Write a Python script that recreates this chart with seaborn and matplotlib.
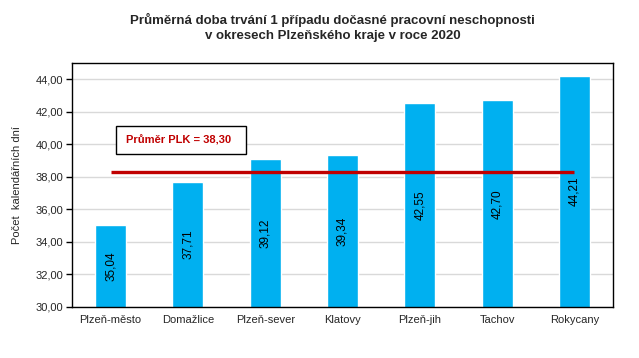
import matplotlib
matplotlib.use("Agg")
import matplotlib.pyplot as plt
import seaborn as sns
import pandas as pd
from matplotlib.patches import Rectangle

# data
okresy = ["Plzeň-město", "Domažlice", "Plzeň-sever", "Klatovy", "Plzeň-jih", "Tachov", "Rokycany"]
hodnoty = [35.04, 37.71, 39.12, 39.34, 42.55, 42.70, 44.21]
prumer_plk = 38.30
y_ticks = [30, 32, 34, 36, 38, 40, 42, 44]

df = pd.DataFrame({"okres": okresy, "hodnota": hodnoty})

sns.set_style("white")
plt.rcParams["font.family"] = ["Liberation Sans", "DejaVu Sans"]

fig = plt.figure(figsize=(6.39, 3.58), dpi=100)
ax = fig.add_axes([0.1127, 0.1425, 0.8466, 0.6815])

sns.barplot(data=df, x="okres", y="hodnota", color="#00B0F0", width=0.4,
            saturation=1, ax=ax, zorder=2)

ax.set_ylim(30, 45)
ax.set_xlim(-0.5, len(okresy) - 0.5)
ax.set_yticks(y_ticks)
ax.set_yticklabels([f"{v:.2f}".replace(".", ",") for v in y_ticks], fontsize=8)
ax.yaxis.grid(True, color="#D9D9D9", linewidth=1, zorder=0)
ax.set_axisbelow(True)

# x ticks between categories
ax.set_xticks(range(len(okresy)))
ax.set_xticklabels(okresy, fontsize=8)
ax.tick_params(axis="x", length=0, pad=6)
ax.set_xticks([i - 0.5 for i in range(len(okresy) + 1)], minor=True)
ax.tick_params(axis="x", which="minor", length=4, width=1, color="black", direction="out")
ax.tick_params(axis="y", length=4, width=1, color="black", direction="out", left=True, pad=2)

for s in ax.spines.values():
    s.set_color("black")
    s.set_linewidth(1)

ax.set_xlabel("")
ax.set_ylabel("Počet  kalendářních dní", fontsize=8, labelpad=10)

# bar labels
for i, v in enumerate(hodnoty):
    ax.text(i, 30 + (v - 30) / 2, f"{v:.2f}".replace(".", ","), rotation=90,
            ha="center", va="center", fontsize=8.5, color="black", zorder=4)

# mean line
ax.plot([0, len(okresy) - 1], [prumer_plk, prumer_plk], color="#C00000",
        linewidth=2.4, zorder=3, solid_capstyle="butt")
ax.add_patch(Rectangle((0.069, 39.40), 1.682, 1.725, fc="white", ec="black",
                       lw=1, zorder=5))
ax.text(0.199, 40.26, f"Průměr PLK = {prumer_plk:.2f}".replace(".", ","),
        fontsize=8, fontweight="bold", color="#C00000", ha="left", va="center",
        zorder=6)

fig.text(0.521, 0.923, "Průměrná doba trvání 1 případu dočasné pracovní neschopnosti\n"
         "v okresech Plzeňského kraje v roce 2020",
         ha="center", va="center", fontsize=9.5, fontweight="bold", linespacing=1.25)

fig.savefig("out.png", dpi=100)
